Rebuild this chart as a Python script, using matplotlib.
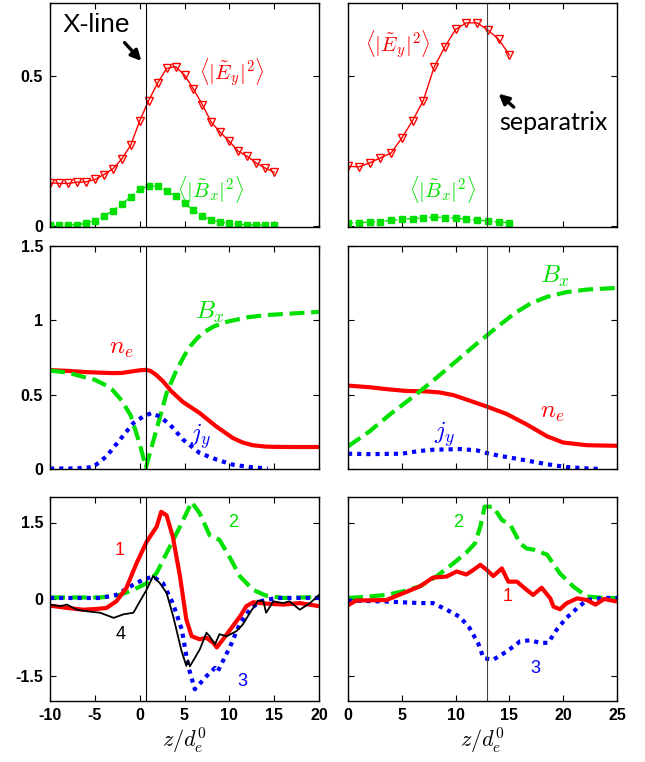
import numpy as np
import matplotlib
matplotlib.use("Agg")
import matplotlib.pyplot as plt

plt.rcParams['mathtext.fontset'] = 'cm'
plt.rcParams['axes.unicode_minus'] = False
plt.rcParams['font.family'] = ['Liberation Sans', 'DejaVu Sans']

RED = '#ff0000'
GREEN = '#00e000'
BLUE = '#0000ff'

# ---- top row: fluctuation amplitudes ----
z_tl = np.arange(-10, 16)
ey_tl = [0.144, 0.142, 0.142, 0.146, 0.147, 0.155, 0.171, 0.190, 0.223, 0.269, 0.350,
         0.418, 0.476, 0.525, 0.531, 0.503, 0.456, 0.404, 0.345, 0.312, 0.282, 0.249,
         0.232, 0.210, 0.193, 0.179]
bx_tl = [0.002, 0.002, 0.003, 0.004, 0.009, 0.018, 0.033, 0.051, 0.072, 0.097, 0.122,
         0.133, 0.133, 0.116, 0.100, 0.075, 0.053, 0.033, 0.020, 0.013, 0.009, 0.006,
         0.004, 0.003, 0.003, 0.003]

z_tr = np.arange(0, 16)
ey_tr = [0.199, 0.197, 0.210, 0.227, 0.243, 0.293, 0.351, 0.418, 0.529, 0.597, 0.655,
         0.677, 0.677, 0.653, 0.622, 0.570]
bx_tr = [0.011, 0.011, 0.013, 0.015, 0.019, 0.022, 0.025, 0.028, 0.029, 0.028, 0.027,
         0.022, 0.019, 0.017, 0.013, 0.011]

# ---- middle row: profiles ----
z_ne_ml = [-10, -8, -6, -4.4, -3, -2, -1, 0, 0.7, 1.2, 1.8, 2.6, 3.5, 4.8, 6.7, 8.5,
           10.4, 11.5, 12.6, 14, 15, 17, 20]
ne_ml = [0.665, 0.66, 0.652, 0.648, 0.645, 0.646, 0.655, 0.664, 0.667, 0.66, 0.635,
         0.59, 0.525, 0.452, 0.376, 0.288, 0.208, 0.178, 0.16, 0.151, 0.149, 0.148, 0.148]
z_bx_ml = [-10, -8, -6.3, -5, -4, -3, -2, -1, 0, 0.7, 1.2, 1.9, 3.0, 4.0, 5.0, 5.7, 6.5,
           7.3, 8.3, 9.7, 12, 14, 17, 20]
bx_ml = [0.662, 0.648, 0.62, 0.6, 0.57, 0.53, 0.46, 0.36, 0.17, 0.01, 0.12, 0.27, 0.51,
         0.65, 0.765, 0.83, 0.885, 0.925, 0.96, 0.99, 1.02, 1.035, 1.046, 1.057]
z_jy_ml = [-10, -7, -5.2, -3.7, -2.2, -0.7, 0.4, 1.3, 2.25, 3.4, 4.85, 6.7, 8.6, 10.4,
           12.3, 14.3]
jy_ml = [0.003, 0.004, 0.013, 0.085, 0.197, 0.309, 0.353, 0.376, 0.353, 0.297, 0.197,
         0.107, 0.063, 0.029, 0.013, 0.003]

z_ne_mr = [0, 2, 3.6, 5.4, 7.3, 8.5, 9.8, 11.3, 12.9, 14.75, 16.6, 18.5, 20, 22.2, 25]
ne_mr = [0.561, 0.55, 0.537, 0.525, 0.522, 0.515, 0.497, 0.46, 0.42, 0.37, 0.3, 0.22,
         0.178, 0.16, 0.156]
z_bx_mr = [0, 2, 4, 6, 8, 10, 12, 14, 15.5, 17, 18.5, 20.3, 22.2, 25]
bx_mr = [0.152, 0.253, 0.373, 0.483, 0.6, 0.722, 0.845, 0.963, 1.048, 1.115, 1.158,
         1.19, 1.207, 1.218]
z_jy_mr = [0, 2, 5, 6.5, 8, 10.5, 12, 12.9, 14, 16, 18.5, 20.3, 22, 23.5]
jy_mr = [0.103, 0.1, 0.103, 0.12, 0.13, 0.134, 0.125, 0.107, 0.09, 0.065, 0.032, 0.013,
         0.005, 0.0]

# ---- bottom row: terms 1-4 ----
z_c1_bl = [-10, -8.1, -6.3, -4.8, -3.7, -2.6, -1.5, -0.35, 0.77, 1.9, 2.4, 3.0, 3.7, 4.5,
           5.2, 5.8, 6.7, 7.45, 8.2, 8.6, 9.3, 10.4, 11.2, 11.9, 12.65, 14.1, 16, 17.85, 20]
c1_bl = [-0.13, -0.175, -0.21, -0.195, -0.175, -0.045, 0.21, 0.70, 1.12, 1.42, 1.71, 1.64,
         1.22, 0.44, -0.40, -0.73, -0.79, -0.76, -0.86, -0.95, -0.79, -0.53, -0.34, -0.14,
         -0.065, -0.09, -0.11, -0.08, -0.14]
z_c2_bl = [-10, -4.4, -2.2, -0.7, 0.77, 1.9, 3.0, 4.5, 5.8, 6.7, 7.8, 8.4, 8.9, 10, 11.2,
           12.65, 14.1, 16, 20]
c2_bl = [0.03, 0.03, 0.08, 0.18, 0.31, 0.51, 0.9, 1.42, 1.9, 1.68, 1.25, 1.2, 1.16, 0.83,
         0.44, 0.18, 0.065, 0.02, 0.04]
z_c3_bl = [-10, -4.4, -2.6, -0.7, 0.4, 1.5, 2.6, 3.7, 4.7, 5.4, 6.15, 7.47, 8.4, 8.7,
           10.07, 11.2, 12.3, 13.4, 15.25, 20]
c3_bl = [0.02, 0.02, 0.08, 0.28, 0.38, 0.44, 0.31, -0.08, -0.6, -1.31, -1.77, -1.51,
         -1.35, -1.42, -0.94, -0.47, -0.21, -0.045, 0.02, 0.02]
z_c4_bl = [-10, -8.9, -8.1, -7.0, -5.9, -4.4, -2.9, -1.8, -0.7, 0.03, 0.77, 1.5, 2.25,
           3.0, 3.74, 4.67, 5.2, 5.4, 5.6, 5.97, 6.7, 7.45, 7.8, 8.4, 8.9, 9.7, 10.8, 11.5,
           12.3, 13.2, 13.8, 14.1, 14.9, 16, 16.7, 17.85, 19, 20]
c4_bl = [-0.11, -0.14, -0.11, -0.21, -0.24, -0.27, -0.37, -0.3, -0.27, -0.045, 0.18, 0.45,
         0.31, 0.12, -0.34, -1.02, -1.31, -1.2, -1.32, -1.21, -0.99, -0.66, -0.73, -0.89,
         -0.69, -0.73, -0.63, -0.5, -0.27, -0.03, -0.045, -0.27, -0.045, -0.08, -0.045,
         -0.21, -0.08, 0.08]

z_c1_br = [0, 0.78, 3.57, 5.43, 6.7, 7.9, 9.16, 10.1, 11.0, 11.65, 12.3, 12.9, 13.5, 14.3,
           14.9, 15.7, 16.6, 17.2, 18.0, 18.8, 19.1, 19.7, 20.3, 21.3, 22.2, 23, 23.8, 25]
c1_br = [-0.12, -0.03, -0.02, 0.14, 0.25, 0.42, 0.44, 0.54, 0.48, 0.57, 0.67, 0.57, 0.45,
         0.60, 0.34, 0.34, 0.18, 0.08, 0.22, 0.013, -0.15, -0.2, -0.085, 0.013, -0.02,
         -0.11, 0.0, -0.05]
z_c2_br = [0, 2, 3.57, 5.1, 6.7, 8.2, 9.8, 11.0, 11.8, 12.3, 12.7, 13.5, 14.3, 15.1, 16.0,
           16.6, 17.2, 18.5, 19.7, 20.96, 22.2, 23.8, 25]
c2_br = [0.02, 0.05, 0.08, 0.15, 0.25, 0.44, 0.70, 0.91, 1.09, 1.42, 1.81, 1.81, 1.55,
         1.45, 1.09, 0.99, 0.97, 0.87, 0.50, 0.24, 0.05, 0.02, 0.02]
z_c3_br = [0, 3.57, 6.7, 7.9, 9.16, 10.4, 11.3, 12.1, 12.6, 13.5, 14.75, 16, 16.9, 17.9,
           18.6, 19.4, 20.3, 21.3, 22.2, 23.8, 25]
c3_br = [-0.03, -0.05, -0.08, -0.08, -0.21, -0.35, -0.57, -0.87, -1.16, -1.19, -1.03,
         -0.83, -0.81, -0.86, -0.86, -0.6, -0.37, -0.18, -0.02, 0.02, 0.02]

XLINE = 0.7
SEPARATRIX = 12.9


def style_axes(ax, xlim, xticks, ylim, yticks, yticklabels, show_x, show_y):
    ax.set_xlim(xlim)
    ax.set_ylim(ylim)
    ax.set_xticks(xticks)
    ax.set_yticks(yticks)
    ax.tick_params(direction='in', length=4, width=0.8, top=True, right=True,
                   labelsize=11.5, pad=5)
    if show_x:
        ax.set_xticklabels([str(t) for t in xticks], fontweight='bold')
        ax.set_xlabel(r'$z/d_e^0$', fontsize=16, labelpad=2)
    else:
        ax.set_xticklabels([])
    if show_y:
        ax.set_yticklabels(yticklabels, fontweight='bold')
    else:
        ax.set_yticklabels([])
    for sp in ax.spines.values():
        sp.set_linewidth(1.0)


fig = plt.figure(figsize=(6.45, 7.62), dpi=100)
lefts = [50 / 645, 348 / 645]
w = 269 / 645
rows = [(535 / 762, 224 / 762), (293 / 762, 223 / 762), (61 / 762, 204 / 762)]
axes = [[fig.add_axes([l, b, w, h]) for l in lefts] for (b, h) in rows]

xl_left = (-10, 20)
xl_right = (0, 25)
xt_left = [-10, -5, 0, 5, 10, 15, 20]
xt_right = [0, 5, 10, 15, 20, 25]

thick = dict(lw=3.0, solid_capstyle='butt')
dash = dict(lw=3.0, dashes=(3.6, 1.6), dash_capstyle='butt')
dot = dict(lw=3.0, dashes=(1.0, 1.2), dash_capstyle='butt')

# top left
ax = axes[0][0]
ax.plot(z_tl, ey_tl, color=RED, lw=1.0, marker='v', ms=6, mfc='none', mew=1.0)
ax.plot(z_tl, bx_tl, color=GREEN, lw=1.0, ls='--', marker='s', ms=5, mec=GREEN)
ax.axvline(XLINE, color='black', lw=0.8)
ax.text(-4.9, 0.67, 'X-line', fontsize=19, ha='center', va='center')
ax.annotate('', xy=(0.4, 0.543), xytext=(-1.9, 0.618),
            arrowprops=dict(arrowstyle='-|>', color='black', lw=2.4, mutation_scale=15))
ax.text(10.3, 0.51, r'$\langle|\tilde{E}_y|^2\rangle$', color=RED, fontsize=15,
        ha='center', va='center')
ax.text(7.9, 0.12, r'$\langle|\tilde{B}_x|^2\rangle$', color=GREEN, fontsize=15,
        ha='center', va='center')
style_axes(ax, xl_left, xt_left, (-0.0033, 0.743), [0, 0.5], ['0', '0.5'], False, True)

# top right
ax = axes[0][1]
ax.plot(z_tr, ey_tr, color=RED, lw=1.0, marker='v', ms=6, mfc='none', mew=1.0)
ax.plot(z_tr, bx_tr, color=GREEN, lw=1.0, ls='--', marker='s', ms=5, mec=GREEN)
ax.axvline(SEPARATRIX, color='#444444', lw=0.8)
ax.text(4.65, 0.603, r'$\langle|\tilde{E}_y|^2\rangle$', color=RED, fontsize=15,
        ha='center', va='center')
ax.text(8.8, 0.12, r'$\langle|\tilde{B}_x|^2\rangle$', color=GREEN, fontsize=15,
        ha='center', va='center')
ax.text(19.1, 0.345, 'separatrix', fontsize=18, family=['Lato', 'DejaVu Sans'],
        ha='center', va='center')
ax.annotate('', xy=(13.8, 0.447), xytext=(15.6, 0.39),
            arrowprops=dict(arrowstyle='-|>', color='black', lw=2.4, mutation_scale=15))
style_axes(ax, xl_right, xt_right, (-0.0033, 0.743), [0, 0.5], ['0', '0.5'], False, False)

# middle left
ax = axes[1][0]
ax.plot(z_ne_ml, ne_ml, color=RED, **thick)
ax.plot(z_bx_ml, bx_ml, color=GREEN, **dash)
ax.plot(z_jy_ml, jy_ml, color=BLUE, **dot)
ax.axvline(XLINE, color='black', lw=0.8)
ax.text(-2.0, 0.814, r'$n_e$', color=RED, fontsize=18, ha='center', va='center')
ax.text(7.9, 1.056, r'$B_x$', color=GREEN, fontsize=18, ha='center', va='center')
ax.text(6.8, 0.222, r'$j_y$', color=BLUE, fontsize=18, ha='center', va='center')
style_axes(ax, xl_left, xt_left, (0, 1.5), [0, 0.5, 1, 1.5], ['0', '0.5', '1', '1.5'],
           False, True)

# middle right
ax = axes[1][1]
ax.plot(z_ne_mr, ne_mr, color=RED, **thick)
ax.plot(z_bx_mr, bx_mr, color=GREEN, **dash)
ax.plot(z_jy_mr, jy_mr, color=BLUE, **dot)
ax.axvline(SEPARATRIX, color='#444444', lw=0.8)
ax.text(19.2, 1.298, r'$B_x$', color=GREEN, fontsize=18, ha='center', va='center')
ax.text(19.0, 0.383, r'$n_e$', color=RED, fontsize=18, ha='center', va='center')
ax.text(9.0, 0.235, r'$j_y$', color=BLUE, fontsize=18, ha='center', va='center')
style_axes(ax, xl_right, xt_right, (0, 1.5), [0, 0.5, 1, 1.5], ['0', '0.5', '1', '1.5'],
           False, False)

# bottom left
ax = axes[2][0]
ax.plot(z_c2_bl, c2_bl, color=GREEN, **dash)
ax.plot(z_c3_bl, c3_bl, color=BLUE, **dot)
ax.plot(z_c1_bl, c1_bl, color=RED, **thick)
ax.plot(z_c4_bl, c4_bl, color='black', lw=1.3)
ax.axvline(XLINE, color='black', lw=0.8)
ax.text(-2.2, 0.955, '1', color=RED, fontsize=13, ha='center', va='center')
ax.text(10.4, 1.5, '2', color=GREEN, fontsize=13, ha='center', va='center')
ax.text(11.5, -1.62, '3', color=BLUE, fontsize=13, ha='center', va='center')
ax.text(-2.1, -0.70, '4', color='black', fontsize=13, ha='center', va='center')
style_axes(ax, xl_left, xt_left, (-2, 2), [-1.5, 0, 1.5], ['-1.5', '0', '1.5'], True, True)

# bottom right
ax = axes[2][1]
ax.plot(z_c2_br, c2_br, color=GREEN, **dash)
ax.plot(z_c3_br, c3_br, color=BLUE, **dot)
ax.plot(z_c1_br, c1_br, color=RED, **thick)
ax.axvline(SEPARATRIX, color='#444444', lw=0.8)
ax.text(10.2, 1.5, '2', color=GREEN, fontsize=13, ha='center', va='center')
ax.text(14.8, 0.04, '1', color=RED, fontsize=13, ha='center', va='center')
ax.text(17.4, -1.36, '3', color=BLUE, fontsize=13, ha='center', va='center')
style_axes(ax, xl_right, xt_right, (-2, 2), [-1.5, 0, 1.5], ['-1.5', '0', '1.5'], True, False)

fig.savefig('out.png', dpi=100)
